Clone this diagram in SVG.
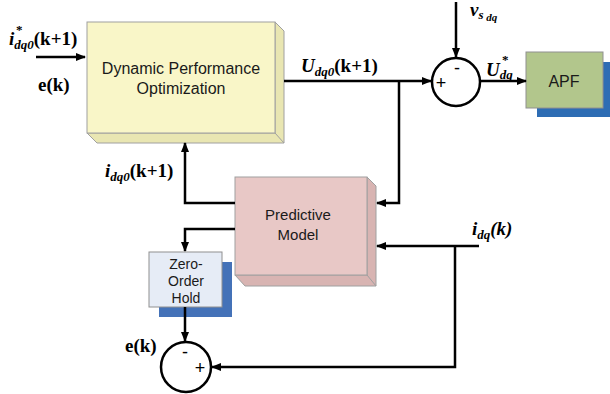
<svg xmlns="http://www.w3.org/2000/svg" width="610" height="394" viewBox="0 0 610 394">
<defs>
<marker id="ah" markerWidth="10" markerHeight="8" refX="9" refY="4" orient="auto" markerUnits="userSpaceOnUse">
<path d="M0,0 L10,4 L0,8 Z" fill="#000"/>
</marker>
<style>
.lbl{font-family:"Liberation Serif","Times New Roman",serif;font-weight:bold;font-size:19px;fill:#000}
.it{font-style:italic}
.sub{font-size:13px;font-style:italic}
.box{font-family:"Liberation Sans",Arial,sans-serif;font-size:16px;fill:#1a1a1a;text-anchor:middle}
.wire{fill:none;stroke:#000;stroke-width:2.5}
.sum{fill:#fff;stroke:#000;stroke-width:2.5}
.sign{font-family:"Liberation Sans",Arial,sans-serif;font-size:18px;fill:#000;text-anchor:middle}
</style>
</defs>
<rect width="610" height="394" fill="#fff"/>

<g id="dpo">
<polygon points="275,22 284,31 284,143 97,143 87,133 275,133" fill="#e9e6b2" stroke="#a0a0a0" stroke-width="1"/>
<line x1="275" y1="133" x2="284" y2="143" stroke="#a0a0a0"/>
<rect x="87" y="22" width="188" height="111" fill="#f9f6c8" stroke="#a0a0a0" stroke-width="1"/>
<text class="box" x="181" y="74">Dynamic Performance</text>
<text class="box" x="181" y="94">Optimization</text>
</g>

<g id="pm">
<polygon points="367,177 376,186 376,286 245,286 235,275 367,275" fill="#d8b4b2" stroke="#a0a0a0" stroke-width="1"/>
<line x1="367" y1="275" x2="376" y2="286" stroke="#a0a0a0"/>
<rect x="235" y="177" width="132" height="98" fill="#e8c8c6" stroke="#a0a0a0" stroke-width="1"/>
<text class="box" x="298" y="220" style="font-size:15px">Predictive</text>
<text class="box" x="298" y="240" style="font-size:15px">Model</text>
</g>

<g id="apf">
<rect x="537" y="62" width="73" height="55" fill="#2e6db4"/>
<rect x="526" y="52" width="77" height="56" fill="#b2c68c" stroke="#909090" stroke-width="1"/>
<text class="box" x="564" y="87">APF</text>
</g>

<g id="zoh">
<rect x="159" y="262" width="73" height="55" fill="#4472b8"/>
<rect x="149" y="252" width="73" height="55" fill="#e6ecf6" stroke="#909090" stroke-width="1"/>
<text class="box" x="186" y="269" style="font-size:14px">Zero-</text>
<text class="box" x="186" y="286" style="font-size:14px">Order</text>
<text class="box" x="186" y="303" style="font-size:14px">Hold</text>
</g>

<g id="sum1">
<circle class="sum" cx="456" cy="82" r="24"/>
<text class="sign" x="457" y="74">-</text>
<text class="sign" x="441" y="89">+</text>
</g>

<g id="sum2">
<circle class="sum" cx="186" cy="367" r="25"/>
<text class="sign" x="185" y="358">-</text>
<text class="sign" x="200" y="374">+</text>
</g>

<g id="connectors">
<line class="wire" x1="36" y1="57" x2="85" y2="57" marker-end="url(#ah)"/>
<line class="wire" x1="284" y1="81" x2="431" y2="81" marker-end="url(#ah)"/>
<polyline class="wire" points="399,81 399,203 377,203" marker-end="url(#ah)"/>
<line class="wire" x1="456" y1="2" x2="456" y2="57" marker-end="url(#ah)"/>
<line class="wire" x1="480" y1="81" x2="526" y2="81" marker-end="url(#ah)"/>
<polyline class="wire" points="235,203 185,203 185,143" marker-end="url(#ah)"/>
<polyline class="wire" points="235,229 185,229 185,251" marker-end="url(#ah)"/>
<line class="wire" x1="185" y1="307" x2="185" y2="341" marker-end="url(#ah)"/>
<line class="wire" x1="479" y1="246" x2="377" y2="246" marker-end="url(#ah)"/>
<polyline class="wire" points="455,246 455,367 212,367" marker-end="url(#ah)"/>
</g>

<g id="labels">
<text class="lbl" x="9" y="45"><tspan class="it">i</tspan><tspan class="sub" dy="4">dq0</tspan><tspan dy="-4">(k+1)</tspan></text>
<text class="lbl" x="16" y="34" style="font-size:13px">*</text>
<text class="lbl" x="38" y="91">e(k)</text>
<text class="lbl" x="301" y="72"><tspan class="it">U</tspan><tspan class="sub" dy="4">dq0</tspan><tspan dy="-4">(k+1)</tspan></text>
<text class="lbl" x="470" y="16"><tspan class="it">v</tspan><tspan class="sub" dy="3">s</tspan><tspan class="sub" dy="2" style="font-size:11px"> dq</tspan></text>
<text class="lbl" x="486" y="76"><tspan class="it">U</tspan><tspan class="sub" dy="3">dq</tspan></text>
<text class="lbl" x="502" y="64" style="font-size:13px">*</text>
<text class="lbl" x="105" y="177"><tspan class="it">i</tspan><tspan class="sub" dy="4">dq0</tspan><tspan dy="-4">(k+1)</tspan></text>
<text class="lbl" x="472" y="235"><tspan class="it">i</tspan><tspan class="sub" dy="4">dq</tspan><tspan class="it" dy="-4">(k)</tspan></text>
<text class="lbl" x="125" y="352">e(k)</text>
</g>
</svg>
